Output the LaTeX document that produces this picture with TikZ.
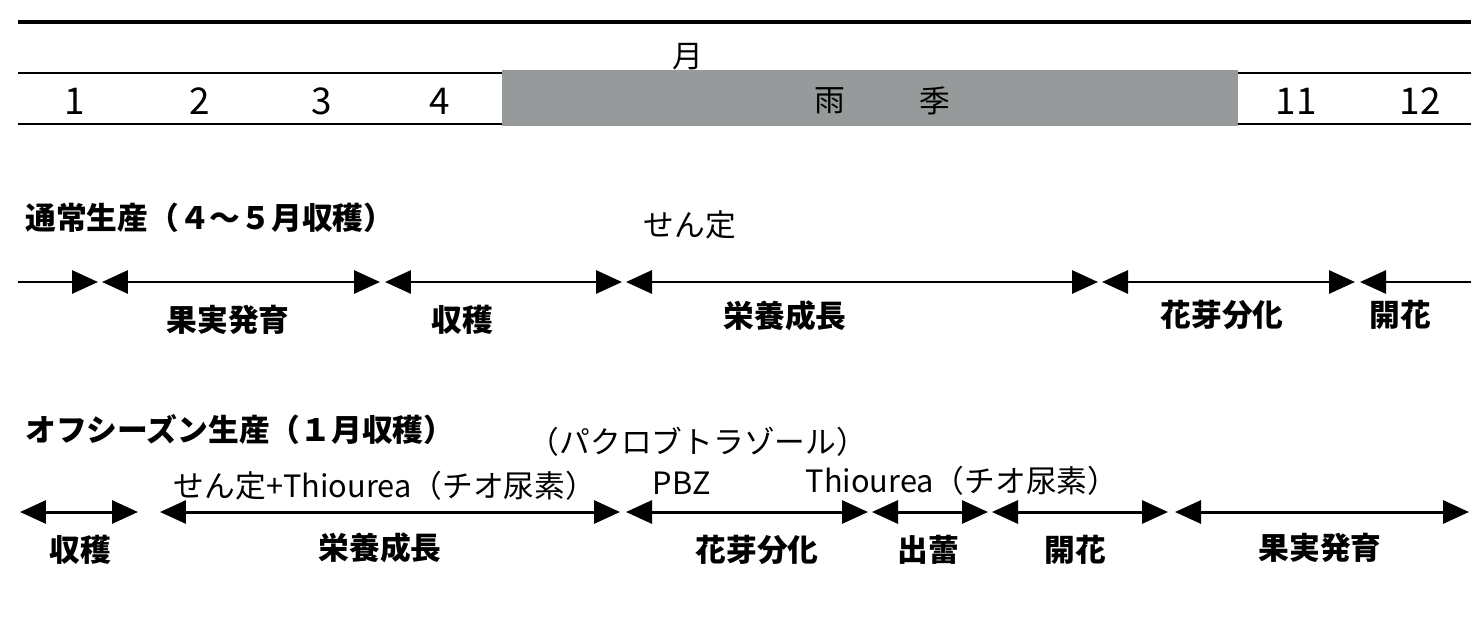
\documentclass[tikz,border=0pt]{standalone}
\usepackage{fontspec}
\newfontfamily\jp{Noto Sans CJK JP}
\usetikzlibrary{arrows.meta}
\definecolor{raingray}{RGB}{150,154,154}
\begin{document}
\begin{tikzpicture}[x=0.02cm,y=-0.02cm,
  txt/.style={font=\jp\fontsize{17.5}{20}\selectfont, inner sep=0pt},
  num/.style={font=\jp\fontsize{21}{24}\selectfont, inner sep=0pt},
  lbl/.style={font=\jp\bfseries\fontsize{17.5}{20}\selectfont, inner sep=0pt},
  ttl/.style={font=\jp\bfseries\fontsize{17.5}{20}\selectfont, inner sep=0pt, anchor=west},
  rule/.style={line width=1.4pt},
  seg/.style={line width=1.7pt, {Triangle[length=0.52cm,width=0.46cm]}-{Triangle[length=0.52cm,width=0.46cm]}},
  segr/.style={line width=1.7pt, -{Triangle[length=0.52cm,width=0.46cm]}},
  segl/.style={line width=1.7pt, {Triangle[length=0.52cm,width=0.46cm]}-}]
\useasboundingbox (0,0) rectangle (1471,629);
% header table
\fill[raingray] (502,70) rectangle (1238,126);
\draw[line width=2.3pt] (18,22) -- (1471,22);
\draw[rule] (18,73) -- (502,73) (1238,73) -- (1471,73);
\draw[rule] (18,124) -- (502,124) (1238,124) -- (1471,124);
\node[txt] (mon) at (688,57) {月};
\node[num] (m1) at (75,101) {1};
\node[num] (m2) at (200,101) {2};
\node[num] (m3) at (322,101) {3};
\node[num] (m4) at (440,101) {4};
\node[txt] (r1) at (830,101) {雨};
\node[txt] (r2) at (935,101) {季};
\node[num] (m11) at (1296,101) {11};
\node[num] (m12) at (1420,101) {12};
% normal production
\node[ttl] (t1) at (25,218) {通常生産（４～５月収穫）};
\node[txt] (sen1) at (690,225) {せん定};
\coordinate (a0) at (18,282);
\coordinate (a1) at (98,282);
\coordinate (a2) at (102,282);
\coordinate (a3) at (380,282);
\coordinate (a4) at (385,282);
\coordinate (a5) at (622,282);
\coordinate (a6) at (626,282);
\coordinate (a7) at (1098,282);
\coordinate (a8) at (1102,282);
\coordinate (a9) at (1355,282);
\coordinate (a10) at (1360,282);
\coordinate (a11) at (1471,282);
\draw[segr] (a0) -- (a1);
\draw[seg] (a2) -- (a3);
\draw[seg] (a4) -- (a5);
\draw[seg] (a6) -- (a7);
\draw[seg] (a8) -- (a9);
\draw[segl] (a10) -- (a11);
\node[lbl] (n1) at (228,320) {果実発育};
\node[lbl] (n2) at (462,320) {収穫};
\node[lbl] (n3) at (785,316) {栄養成長};
\node[lbl] (n4) at (1222,315) {花芽分化};
\node[lbl] (n5) at (1400,315) {開花};
% off-season production
\node[ttl] (t2) at (25,430) {オフシーズン生産（１月収穫）};
\node[txt] (pac) at (698,442) {（パクロブトラゾール）};
\node[txt] (pbz) at (682,483) {PBZ};
\node[txt] (thio1) at (385,486) {せん定+Thiourea（チオ尿素）};
\node[txt] (thio2) at (962,481) {Thiourea（チオ尿素）};
\coordinate (b1) at (20,512);
\coordinate (b2) at (138,512);
\coordinate (b3) at (160,512);
\coordinate (b4) at (620,512);
\coordinate (b5) at (626,512);
\coordinate (b6) at (868,512);
\coordinate (b7) at (872,512);
\coordinate (b8) at (988,512);
\coordinate (b9) at (992,512);
\coordinate (b10) at (1168,512);
\coordinate (b11) at (1175,512);
\coordinate (b12) at (1469,512);
\draw[seg] (b1) -- (b2);
\draw[seg] (b3) -- (b4);
\draw[seg] (b5) -- (b6);
\draw[seg] (b7) -- (b8);
\draw[seg] (b9) -- (b10);
\draw[seg] (b11) -- (b12);
\node[lbl] (o1) at (80,550) {収穫};
\node[lbl] (o2) at (380,548) {栄養成長};
\node[lbl] (o3) at (757,550) {花芽分化};
\node[lbl] (o4) at (928,550) {出蕾};
\node[lbl] (o5) at (1075,550) {開花};
\node[lbl] (o6) at (1320,548) {果実発育};
\end{tikzpicture}
\end{document}
